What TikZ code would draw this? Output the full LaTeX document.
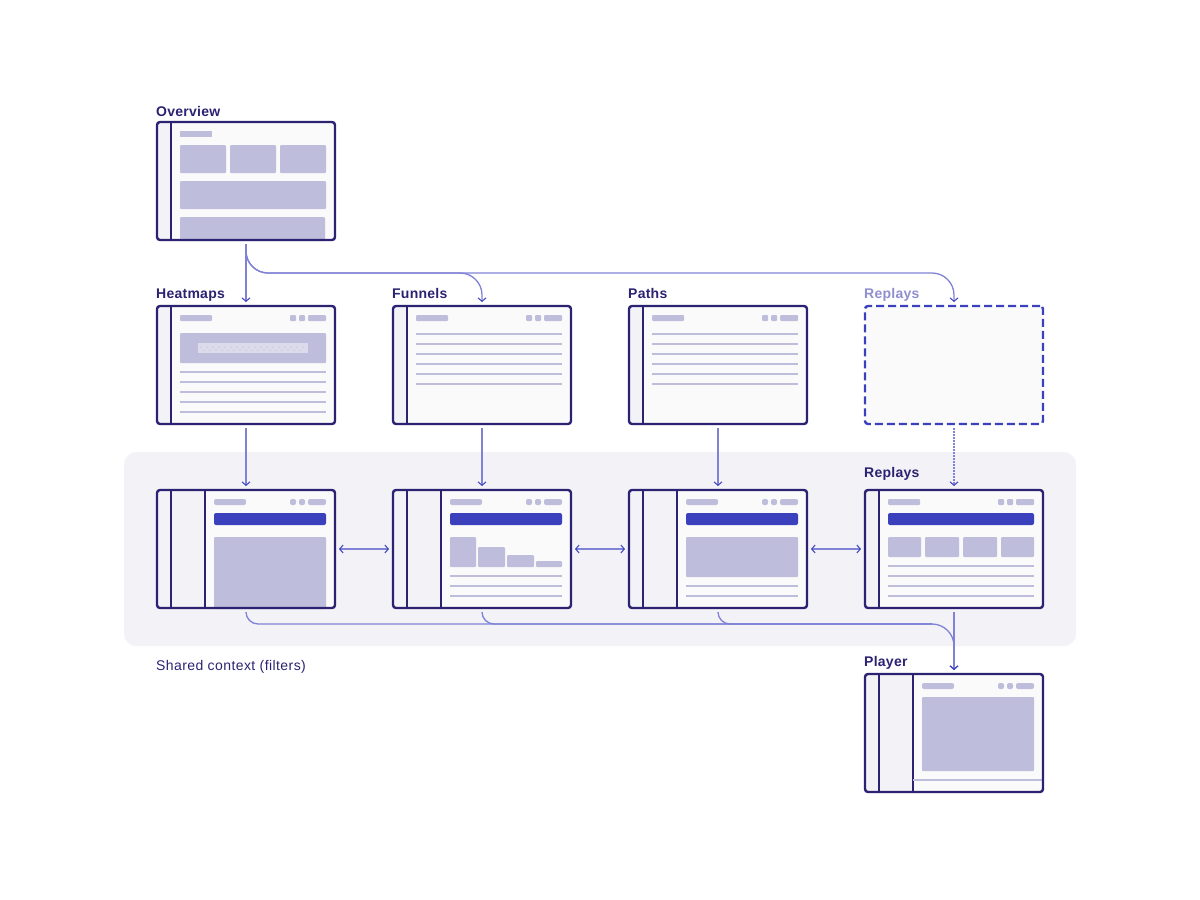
\documentclass[tikz,border=0pt]{standalone}
\usepackage{fontspec}
\setmainfont{Liberation Sans}
\usetikzlibrary{arrows.meta}
\definecolor{navy}{HTML}{2B2272}
\definecolor{indigo}{HTML}{3B41BD}
\definecolor{wash}{HTML}{BEBEDC}
\definecolor{mist}{HTML}{F2F2F7}
\definecolor{paper}{HTML}{FAFAFA}
\definecolor{faded}{HTML}{8F8FD0}
\definecolor{linkline}{HTML}{7F82D6}
\tikzset{
  >={Straight Barb[length=3.5pt,width=8pt,line width=1pt,color=indigo]},
  screen/.style={draw=navy,line width=2.4pt,rounded corners=3pt,minimum width=178pt,minimum height=118pt,inner sep=0pt,outer sep=0pt},
  ghost/.style={screen,draw=indigo,fill=paper,dash pattern=on 8pt off 4pt},
  title/.style={anchor=base west,inner sep=0pt,font=\fontsize{14}{14}\selectfont\bfseries\addfontfeature{LetterSpace=1.8},text=navy},
  note/.style={anchor=base west,inner sep=0pt,font=\fontsize{14}{14}\selectfont\addfontfeature{LetterSpace=3},text=navy},
  link/.style={linkline,line width=1.3pt,shorten <=4pt,shorten >=4pt},
  blockfill/.style={fill=wash,rounded corners=1pt},
  softfill/.style={fill=wash,rounded corners=2pt},
  barfill/.style={fill=indigo,rounded corners=2pt}
}
% header strip: title bar and three small controls
\newcommand{\headstrip}[4][blockfill]{
  \fill[#1] (#2,#4) rectangle +(32,6);
  \fill[#1] (#3,#4) rectangle +(6,6);
  \fill[#1] (#3+9,#4) rectangle +(6,6);
  \fill[#1] (#3+18,#4) rectangle +(18,6);
}
% one text line of a screen
\newcommand{\textrule}[3]{\fill[wash] (#1,#3-1) rectangle (#2,#3+1);}
\begin{document}
\begin{tikzpicture}[x=1pt,y=-1pt]
  \useasboundingbox (0,0) rectangle (1200,900);
  \fill[mist,rounded corners=12pt] (124,452) rectangle (1076,646);

  % screen bodies
  \foreach \px/\py in {157/122,157/306,393/306,629/306,157/490,393/490,629/490,865/490,865/674}
    \fill[paper,rounded corners=3pt] (\px,\py) rectangle +(178,118);
  % rails
  \foreach \px/\py/\pw in {157/122/14,157/306/14,393/306/14,629/306/14,157/490/48,393/490/48,629/490/48,865/490/14,865/674/48}
    \fill[mist] (\px+\pw,\py) {[rounded corners=3pt] -- (\px,\py) -- (\px,\py+118)} -- (\px+\pw,\py+118) -- cycle;
  \foreach \px/\py in {157/122,157/306,393/306,629/306,157/490,393/490,629/490,865/490,865/674}
    \draw[navy,line width=2.4pt] (\px+14,\py) -- (\px+14,\py+118);
  \foreach \px/\py in {157/490,393/490,629/490,865/674}
    \draw[navy,line width=2.4pt] (\px+48,\py) -- (\px+48,\py+118);

  % overview
  \fill[wash] (180,131) rectangle (212,137);
  \foreach \px in {180,230,280}
    \fill[blockfill] (\px,145) rectangle +(46,28);
  \fill[blockfill] (180,181) rectangle (326,209);
  \fill[blockfill] (180,217) rectangle (325,241);

  % heatmaps
  \headstrip{180}{290}{315}
  \fill[blockfill] (180,333) rectangle (326,363);
  \fill[white,opacity=.45] (198,343) rectangle (308,353);
  \foreach \px in {201,207,...,305}
    \fill[wash] (\px,347.3) circle (.6);
  \foreach \px in {204,210,...,304}
    \fill[wash] (\px,350.3) circle (.6);
  \foreach \py in {372,382,...,412}{
    \textrule{180}{326}{\py}
  }

  % funnels and paths
  \headstrip{416}{526}{315}
  \headstrip{652}{762}{315}
  \foreach \py in {334,344,...,384}{
    \textrule{416}{562}{\py}
    \textrule{652}{798}{\py}
  }

  % detail row
  \headstrip[softfill]{214}{290}{499}
  \fill[barfill] (214,513) rectangle (326,525);
  \fill[blockfill] (214,537) rectangle (326,609);

  \headstrip[softfill]{450}{526}{499}
  \fill[barfill] (450,513) rectangle (562,525);
  \fill[blockfill] (450,537) rectangle (476,567);
  \fill[blockfill] (478,547) rectangle (505,567);
  \fill[blockfill] (507,555) rectangle (534,567);
  \fill[blockfill] (536,561) rectangle (562,567);
  \foreach \py in {576,586,596}{
    \textrule{450}{562}{\py}
  }

  \headstrip[softfill]{686}{762}{499}
  \fill[barfill] (686,513) rectangle (798,525);
  \fill[blockfill] (686,537) rectangle (798,577);
  \foreach \py in {586,596}{
    \textrule{686}{798}{\py}
  }

  \headstrip{888}{998}{499}
  \fill[barfill] (888,513) rectangle (1034,525);
  \fill[blockfill] (888,537) rectangle (921,557);
  \fill[blockfill] (925,537) rectangle (959,557);
  \fill[blockfill] (963,537) rectangle (997,557);
  \fill[blockfill] (1001,537) rectangle (1034,557);
  \foreach \py in {566,576,586,596}{
    \textrule{888}{1034}{\py}
  }

  % player
  \headstrip[softfill]{922}{998}{683}
  \fill[blockfill] (922,697) rectangle (1034,771);
  \textrule{913}{1043}{780}

  % frames and labels
  \draw
    (246,181) node[screen] (overview) {}
    (246,365) node[screen] (heatmaps) {}
    (482,365) node[screen] (funnels) {}
    (718,365) node[screen] (paths) {}
    (954,365) node[ghost] (replays) {}
    (246,549) node[screen] (heatmapsdetail) {}
    (482,549) node[screen] (funnelsdetail) {}
    (718,549) node[screen] (pathsdetail) {}
    (954,549) node[screen] (replaysdetail) {}
    (954,733) node[screen] (player) {};
  \draw
    (156,116) node[title] (overviewlabel) {Overview}
    (156,298) node[title] (heatmapslabel) {Heatmaps}
    (392,298) node[title] (funnelslabel) {Funnels}
    (628,298) node[title] (pathslabel) {Paths}
    (864,298) node[title,text=faded] (replayslabel) {Replays}
    (864,477) node[title] (replaysdetaillabel) {Replays}
    (864,666) node[title] (playerlabel) {Player}
    (156,670) node[note] (sharedlabel) {Shared context (filters)};

  \coordinate (toprail) at (600,273);
  \coordinate (lowrail) at (932,624);
  \begin{scope}[->]
    \draw[link] (overview) -- (heatmaps);
    \draw[link,rounded corners=22pt] (overview.south) |- (funnels.north |- toprail) -- (funnels.north);
    \draw[link,rounded corners=22pt] (overview.south) |- (replays.north |- toprail) -- (replays.north);
    \draw[link] (heatmaps) -- (heatmapsdetail);
    \draw[link] (funnels) -- (funnelsdetail);
    \draw[link] (paths) -- (pathsdetail);
    \draw[link,dash pattern=on 1.5pt off 1.5pt] (replays) -- (replaysdetail);
    \draw[link] (replaysdetail) -- (player);
    \draw[link,shorten <=0pt,rounded corners=22pt] (lowrail) -| (player.north);
  \end{scope}
  \begin{scope}[<->]
    \draw[link] (heatmapsdetail) -- (funnelsdetail);
    \draw[link] (funnelsdetail) -- (pathsdetail);
    \draw[link] (pathsdetail) -- (replaysdetail);
  \end{scope}
  \begin{scope}[-]
    \draw[link,shorten >=0pt,rounded corners=12pt] (heatmapsdetail.south) |- (lowrail);
    \draw[link,shorten >=0pt,rounded corners=12pt] (funnelsdetail.south) |- (lowrail);
    \draw[link,shorten >=0pt,rounded corners=12pt] (pathsdetail.south) |- (lowrail);
  \end{scope}
\end{tikzpicture}
\end{document}
